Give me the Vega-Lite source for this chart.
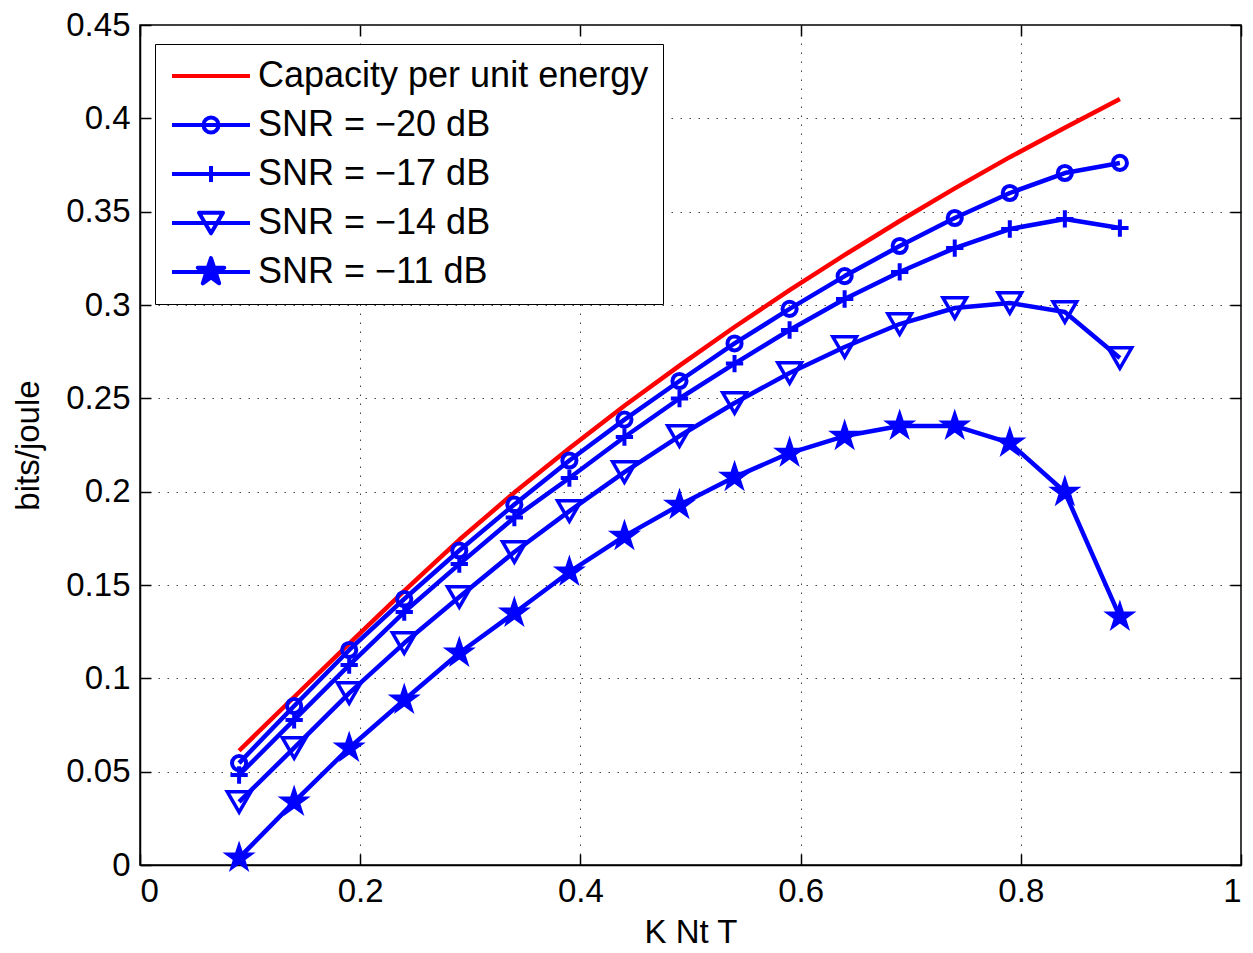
{
  "$schema": "https://vega.github.io/schema/vega-lite/v6.json",
  "width": 1101,
  "height": 840,
  "autosize": {"type": "none"},
  "padding": {"left": 140, "top": 25, "right": 12, "bottom": 88},
  "background": "white",
  "config": {
    "view": {"stroke": "black", "strokeWidth": 1.5},
    "font": "Liberation Sans",
    "axis": {
      "labelFont": "Liberation Sans", "labelFontSize": 33, "labelColor": "black",
      "titleFont": "Liberation Sans", "titleFontSize": 33, "titleFontWeight": "normal", "titleColor": "black",
      "domainColor": "black", "domainWidth": 1.5,
      "tickColor": "black", "tickWidth": 1.5, "tickSize": -11, "labelPadding": 21,
      "gridColor": "#444444", "gridDash": [1.5, 7.5], "gridWidth": 1
    }
  },
  "data": {"values": [
    {"x": 0.09, "y": 0.0612, "series": "Capacity per unit energy"},
    {"x": 0.14, "y": 0.0900, "series": "Capacity per unit energy"},
    {"x": 0.19, "y": 0.1186, "series": "Capacity per unit energy"},
    {"x": 0.24, "y": 0.1468, "series": "Capacity per unit energy"},
    {"x": 0.29, "y": 0.1742, "series": "Capacity per unit energy"},
    {"x": 0.34, "y": 0.1995, "series": "Capacity per unit energy"},
    {"x": 0.39, "y": 0.2232, "series": "Capacity per unit energy"},
    {"x": 0.44, "y": 0.2460, "series": "Capacity per unit energy"},
    {"x": 0.49, "y": 0.2675, "series": "Capacity per unit energy"},
    {"x": 0.54, "y": 0.2882, "series": "Capacity per unit energy"},
    {"x": 0.59, "y": 0.3080, "series": "Capacity per unit energy"},
    {"x": 0.64, "y": 0.3268, "series": "Capacity per unit energy"},
    {"x": 0.69, "y": 0.3450, "series": "Capacity per unit energy"},
    {"x": 0.74, "y": 0.3625, "series": "Capacity per unit energy"},
    {"x": 0.79, "y": 0.3792, "series": "Capacity per unit energy"},
    {"x": 0.84, "y": 0.3950, "series": "Capacity per unit energy"},
    {"x": 0.89, "y": 0.4104, "series": "Capacity per unit energy"},

    {"x": 0.09, "y": 0.0546, "series": "SNR = −20 dB"},
    {"x": 0.14, "y": 0.0852, "series": "SNR = −20 dB"},
    {"x": 0.19, "y": 0.1152, "series": "SNR = −20 dB"},
    {"x": 0.24, "y": 0.1425, "series": "SNR = −20 dB"},
    {"x": 0.29, "y": 0.1685, "series": "SNR = −20 dB"},
    {"x": 0.34, "y": 0.1931, "series": "SNR = −20 dB"},
    {"x": 0.39, "y": 0.2167, "series": "SNR = −20 dB"},
    {"x": 0.44, "y": 0.2386, "series": "SNR = −20 dB"},
    {"x": 0.49, "y": 0.2593, "series": "SNR = −20 dB"},
    {"x": 0.54, "y": 0.2794, "series": "SNR = −20 dB"},
    {"x": 0.59, "y": 0.2979, "series": "SNR = −20 dB"},
    {"x": 0.64, "y": 0.3155, "series": "SNR = −20 dB"},
    {"x": 0.69, "y": 0.3316, "series": "SNR = −20 dB"},
    {"x": 0.74, "y": 0.3466, "series": "SNR = −20 dB"},
    {"x": 0.79, "y": 0.3600, "series": "SNR = −20 dB"},
    {"x": 0.84, "y": 0.3707, "series": "SNR = −20 dB"},
    {"x": 0.89, "y": 0.3761, "series": "SNR = −20 dB"},

    {"x": 0.09, "y": 0.0482, "series": "SNR = −17 dB"},
    {"x": 0.14, "y": 0.0777, "series": "SNR = −17 dB"},
    {"x": 0.19, "y": 0.1071, "series": "SNR = −17 dB"},
    {"x": 0.24, "y": 0.1355, "series": "SNR = −17 dB"},
    {"x": 0.29, "y": 0.1612, "series": "SNR = −17 dB"},
    {"x": 0.34, "y": 0.1861, "series": "SNR = −17 dB"},
    {"x": 0.39, "y": 0.2073, "series": "SNR = −17 dB"},
    {"x": 0.44, "y": 0.2293, "series": "SNR = −17 dB"},
    {"x": 0.49, "y": 0.2499, "series": "SNR = −17 dB"},
    {"x": 0.54, "y": 0.2686, "series": "SNR = −17 dB"},
    {"x": 0.59, "y": 0.2866, "series": "SNR = −17 dB"},
    {"x": 0.64, "y": 0.3032, "series": "SNR = −17 dB"},
    {"x": 0.69, "y": 0.3177, "series": "SNR = −17 dB"},
    {"x": 0.74, "y": 0.3305, "series": "SNR = −17 dB"},
    {"x": 0.79, "y": 0.3407, "series": "SNR = −17 dB"},
    {"x": 0.84, "y": 0.3461, "series": "SNR = −17 dB"},
    {"x": 0.89, "y": 0.3412, "series": "SNR = −17 dB"},

    {"x": 0.09, "y": 0.0338, "series": "SNR = −14 dB"},
    {"x": 0.14, "y": 0.0627, "series": "SNR = −14 dB"},
    {"x": 0.19, "y": 0.0921, "series": "SNR = −14 dB"},
    {"x": 0.24, "y": 0.1189, "series": "SNR = −14 dB"},
    {"x": 0.29, "y": 0.1436, "series": "SNR = −14 dB"},
    {"x": 0.34, "y": 0.1677, "series": "SNR = −14 dB"},
    {"x": 0.39, "y": 0.1896, "series": "SNR = −14 dB"},
    {"x": 0.44, "y": 0.2105, "series": "SNR = −14 dB"},
    {"x": 0.49, "y": 0.2298, "series": "SNR = −14 dB"},
    {"x": 0.54, "y": 0.2475, "series": "SNR = −14 dB"},
    {"x": 0.59, "y": 0.2636, "series": "SNR = −14 dB"},
    {"x": 0.64, "y": 0.2775, "series": "SNR = −14 dB"},
    {"x": 0.69, "y": 0.2898, "series": "SNR = −14 dB"},
    {"x": 0.74, "y": 0.2984, "series": "SNR = −14 dB"},
    {"x": 0.79, "y": 0.3011, "series": "SNR = −14 dB"},
    {"x": 0.84, "y": 0.2963, "series": "SNR = −14 dB"},
    {"x": 0.89, "y": 0.2716, "series": "SNR = −14 dB"},

    {"x": 0.09, "y": 0.0038, "series": "SNR = −11 dB"},
    {"x": 0.14, "y": 0.0338, "series": "SNR = −11 dB"},
    {"x": 0.19, "y": 0.0627, "series": "SNR = −11 dB"},
    {"x": 0.24, "y": 0.0884, "series": "SNR = −11 dB"},
    {"x": 0.29, "y": 0.1136, "series": "SNR = −11 dB"},
    {"x": 0.34, "y": 0.1350, "series": "SNR = −11 dB"},
    {"x": 0.39, "y": 0.1570, "series": "SNR = −11 dB"},
    {"x": 0.44, "y": 0.1762, "series": "SNR = −11 dB"},
    {"x": 0.49, "y": 0.1928, "series": "SNR = −11 dB"},
    {"x": 0.54, "y": 0.2078, "series": "SNR = −11 dB"},
    {"x": 0.59, "y": 0.2207, "series": "SNR = −11 dB"},
    {"x": 0.64, "y": 0.2298, "series": "SNR = −11 dB"},
    {"x": 0.69, "y": 0.2352, "series": "SNR = −11 dB"},
    {"x": 0.74, "y": 0.2352, "series": "SNR = −11 dB"},
    {"x": 0.79, "y": 0.2261, "series": "SNR = −11 dB"},
    {"x": 0.84, "y": 0.1998, "series": "SNR = −11 dB"},
    {"x": 0.89, "y": 0.1329, "series": "SNR = −11 dB"}
  ]},
  "resolve": {"axis": {"x": "independent", "y": "independent"}},
  "layer": [
    {
      "mark": {"type": "line", "strokeWidth": 4.5, "strokeJoin": "round"},
      "encoding": {
        "x": {"field": "x", "type": "quantitative", "scale": {"domain": [0, 1], "nice": false, "zero": false},
              "axis": {"values": [0, 0.2, 0.4, 0.6, 0.8, 1], "format": "~g", "grid": true, "title": "K Nt T", "titlePadding": 8}},
        "y": {"field": "y", "type": "quantitative", "scale": {"domain": [0, 0.45], "nice": false, "zero": false},
              "axis": {"values": [0, 0.05, 0.1, 0.15, 0.2, 0.25, 0.3, 0.35, 0.4, 0.45], "format": "~g", "grid": true, "title": "bits/joule", "titlePadding": 20}},
        "stroke": {
          "field": "series", "type": "nominal",
          "scale": {"domain": ["Capacity per unit energy", "SNR = −20 dB", "SNR = −17 dB", "SNR = −14 dB", "SNR = −11 dB"],
                    "range": ["#ff0000", "#0000ff", "#0000ff", "#0000ff", "#0000ff"]},
          "legend": {
            "orient": "none", "legendX": 15, "legendY": 19, "title": null,
            "strokeColor": "black", "fillColor": "white", "padding": 14,
            "labelFont": "Liberation Sans", "labelFontSize": 36, "labelColor": "black", "labelLimit": 700,
            "symbolSize": 900, "labelOffset": 53, "rowPadding": 13, "symbolStrokeWidth": 4,
            "encode": {
              "symbols": {"update": {
                "shape": {"signal": "datum.value === 'Capacity per unit energy' ? 'M-1,0L4.2,0' : datum.value === 'SNR = −20 dB' ? 'M-1,0L4.2,0M1.1,0A0.5,0.5 0 1,0 2.1,0A0.5,0.5 0 1,0 1.1,0' : datum.value === 'SNR = −17 dB' ? 'M-1,0L4.2,0M1.07,0L2.13,0M1.6,-0.53L1.6,0.53' : datum.value === 'SNR = −14 dB' ? 'M-1,0L4.2,0M1.6,0.69L0.8,-0.69L2.4,-0.69Z' : 'M-1,0L4.2,0M1.6,-0.93L1.809,-0.287L2.484,-0.287L1.938,0.11L2.147,0.752L1.6,0.355L1.053,0.752L1.262,0.11L0.716,-0.287L1.391,-0.287Z'"},
                "stroke": {"signal": "datum.value === 'Capacity per unit energy' ? '#ff0000' : '#0000ff'"},
                "fill": {"signal": "datum.value === 'SNR = −11 dB' ? '#0000ff' : 'transparent'"},
                "strokeWidth": {"value": 4},
                "strokeJoin": {"value": "round"},
                "opacity": {"value": 1}
              }}
            }
          }
        }
      }
    },
    {
      "transform": [{"filter": "datum.series === 'SNR = −20 dB'"}],
      "mark": {"type": "point", "shape": "circle", "size": 200, "filled": false, "opacity": 1, "stroke": "#0000ff", "strokeWidth": 4},
      "encoding": {
        "x": {"field": "x", "type": "quantitative",
              "axis": {"orient": "top", "values": [0, 0.2, 0.4, 0.6, 0.8, 1], "labels": false, "grid": false, "title": null, "domain": false}},
        "y": {"field": "y", "type": "quantitative",
              "axis": {"orient": "right", "values": [0, 0.05, 0.1, 0.15, 0.2, 0.25, 0.3, 0.35, 0.4, 0.45], "labels": false, "grid": false, "title": null, "domain": false}}
      }
    },
    {
      "transform": [{"filter": "datum.series === 'SNR = −17 dB'"}],
      "mark": {"type": "point", "shape": "M-1,0L1,0M0,-1L0,1", "size": 300, "filled": false, "opacity": 1, "stroke": "#0000ff", "strokeWidth": 4},
      "encoding": {
        "x": {"field": "x", "type": "quantitative", "axis": null},
        "y": {"field": "y", "type": "quantitative", "axis": null}
      }
    },
    {
      "transform": [{"filter": "datum.series === 'SNR = −14 dB'"}],
      "mark": {"type": "point", "shape": "triangle-down", "size": 560, "filled": false, "opacity": 1, "stroke": "#0000ff", "strokeWidth": 3.5},
      "encoding": {
        "x": {"field": "x", "type": "quantitative", "axis": null},
        "y": {"field": "y", "type": "quantitative", "axis": null}
      }
    },
    {
      "transform": [{"filter": "datum.series === 'SNR = −11 dB'"}],
      "mark": {"type": "point", "shape": "M0,-1L0.2245,-0.309L0.951,-0.309L0.3633,0.118L0.5878,0.809L0,0.382L-0.5878,0.809L-0.3633,0.118L-0.951,-0.309L-0.2245,-0.309Z", "size": 900, "filled": true, "opacity": 1, "fill": "#0000ff", "stroke": "#0000ff", "strokeWidth": 1.5},
      "encoding": {
        "x": {"field": "x", "type": "quantitative", "axis": null},
        "y": {"field": "y", "type": "quantitative", "axis": null}
      }
    }
  ]
}
